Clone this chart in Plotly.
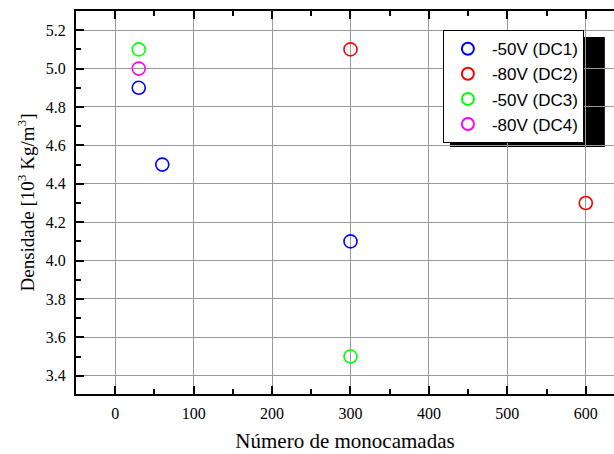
import plotly.graph_objects as go

series_names = ["-50V (DC1)", "-80V (DC2)", "-50V (DC3)", "-80V (DC4)"]
series_x = [[30, 60, 300], [300, 600], [30, 300], [30]]
series_y = [[4.9, 4.5, 4.1], [5.1, 4.3], [5.1, 3.5], [5.0]]
series_colors = ["#0000ff", "#ff0000", "#00ff00", "#ff00ff"]

x_ticks = [0, 100, 200, 300, 400, 500, 600]
y_ticks = [3.4, 3.6, 3.8, 4.0, 4.2, 4.4, 4.6, 4.8, 5.0, 5.2]
y_range = [3.305, 5.3]

fig = go.Figure()
for name, xs, ys, c in zip(series_names, series_x, series_y, series_colors):
    fig.add_trace(go.Scatter(
        x=xs, y=ys, mode="markers", name=name,
        marker=dict(symbol="circle-open", size=13, color=c, line=dict(width=1.6, color=c)),
    ))

serif = "Liberation Serif, Times New Roman, serif"
fig.update_layout(
    width=614, height=454,
    margin=dict(l=76, r=0, t=11, b=60),
    paper_bgcolor="white", plot_bgcolor="white",
    showlegend=True,
    legend=dict(
        x=0.682, y=0.95, xanchor="left", yanchor="top",
        bgcolor="white", bordercolor="black", borderwidth=1,
        font=dict(family="Liberation Sans, Arial, sans-serif", size=17, color="black"),
        itemsizing="constant", tracegroupgap=0, itemwidth=38,
    ),
    font=dict(family=serif, size=16, color="black"),
)
fig.update_xaxes(
    range=[-50, 636], tickvals=x_ticks, ticktext=[str(v) for v in x_ticks],
    showgrid=True, gridcolor="#999999", gridwidth=1,
    showline=True, linecolor="black", linewidth=2, mirror="ticks",
    ticks="inside", ticklen=8, tickwidth=2, tickcolor="black",
    minor=dict(dtick=50, tick0=0, ticks="inside", ticklen=5, tickwidth=1.5, tickcolor="black", showgrid=False),
    zeroline=False, ticklabelstandoff=4,
    title=dict(text="Número de monocamadas", font=dict(family=serif, size=21), standoff=12),
    tickfont=dict(family=serif, size=16),
)
fig.update_yaxes(
    range=y_range, tickvals=y_ticks, ticktext=[f"{v:.1f}" for v in y_ticks],
    showgrid=True, gridcolor="#999999", gridwidth=1,
    showline=True, linecolor="black", linewidth=2,
    ticks="inside", ticklen=8, tickwidth=2, tickcolor="black",
    minor=dict(dtick=0.1, tick0=3.3, ticks="inside", ticklen=5, tickwidth=1.5, tickcolor="black", showgrid=False),
    zeroline=False, ticklabelstandoff=5,
    title=dict(text="Densidade [10<sup>3</sup> Kg/m<sup>3</sup>]", font=dict(family=serif, size=19), standoff=6),
    tickfont=dict(family=serif, size=16),
)
# legend shadow
fig.add_shape(type="rect", xref="paper", yref="paper",
              x0=0.695, x1=0.983, y0=0.645, y1=0.932,
              fillcolor="black", line=dict(width=0), layer="below")
fig.write_html("out.html")
